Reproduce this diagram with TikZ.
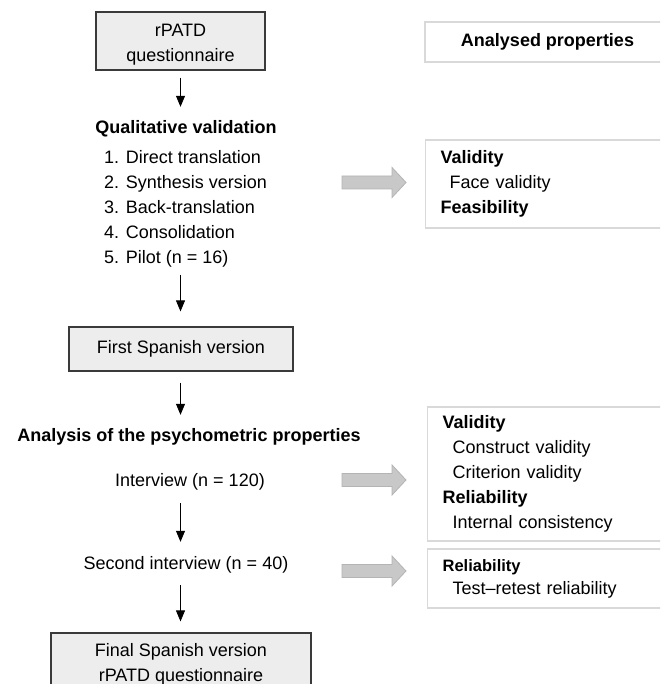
\documentclass[tikz,border=0pt]{standalone}
\usepackage{fontspec}
\setmainfont{Liberation Sans}
\usetikzlibrary{arrows.meta,calc}
\definecolor{boxfill}{HTML}{EDEDED}
\definecolor{boxline}{HTML}{3A3A3A}
\definecolor{propline}{HTML}{D9D9D9}
\definecolor{bafill}{HTML}{C8C8C8}
\definecolor{baline}{HTML}{B4B4B4}
\tikzset{
  mainbox/.style={draw=boxline, fill=boxfill, line width=1.2pt, align=center, inner sep=0pt,
    font=\fontsize{18}{25}\selectfont},
  txt/.style={inner sep=0pt, text height=13pt, text depth=4pt, font=\fontsize{18}{25}\selectfont},
  boldtxt/.style={txt, font=\fontsize{18}{25}\selectfont\bfseries},
  listtxt/.style={inner sep=0pt, align=left, font=\fontsize{18}{25}\selectfont},
  propbox/.style={draw=propline, line width=1.3pt, inner xsep=15pt, inner ysep=0pt,
    text width=215pt, minimum width=245pt, align=left, anchor=west,
    font=\fontsize{18}{25}\selectfont},
  arr/.style={-{Triangle[width=9pt,length=11pt]}, line width=0.8pt, black},
  barrow/.pic={\draw[fill=bafill, draw=baline, line width=0.8pt]
    (0,-6.5) -- (50,-6.5) -- (50,-15) -- (64,0) -- (50,15) -- (50,6.5) -- (0,6.5) -- cycle;}
}
\begin{document}
\begin{tikzpicture}[x=1pt,y=-1pt]
\clip (0,0) rectangle (660,684);
\fill[white] (0,0) rectangle (660,684);
% left column
\node[mainbox, minimum width=169pt, minimum height=58pt] (q) at (180.5,41) {\rule{0pt}{19pt}rPATD\\questionnaire};
\node[boldtxt] (qual) at (186,129) {Qualitative validation};
\node[listtxt, anchor=north west] (list) at (104,150.5)
  {1. Direct translation\\2. Synthesis version\\3. Back-translation\\4. Consolidation\\5. Pilot (n = 16)};
\node[mainbox, minimum width=224pt, minimum height=44pt] (fsv) at (181,349) {First Spanish version};
\node[boldtxt] (anal) at (189,437) {Analysis of the psychometric properties};
\node[txt] (int) at (190,482) {Interview (n = 120)};
\node[txt] (sec) at (186,565) {Second interview (n = 40)};
\node[mainbox, minimum width=260pt, minimum height=57pt] (fin) at (181,661.5) {\rule{0pt}{18pt}Final Spanish version\\rPATD questionnaire};
% vertical arrows
\coordinate (c1) at (180.5,0);
\draw[arr, shorten <=7pt, shorten >=13.5pt] (c1 |- q.south) -- (c1 |- qual.north);
\draw[arr, shorten <=7pt, shorten >=15pt] (c1 |- list.south) -- (c1 |- fsv.north);
\draw[arr, shorten <=11pt, shorten >=13.5pt] (c1 |- fsv.south) -- (c1 |- anal.north);
\draw[arr, shorten <=12.5pt, shorten >=14.5pt] (c1 |- int.south) -- (c1 |- sec.north);
\draw[arr, shorten <=11.5pt, shorten >=11pt] (c1 |- sec.south) -- (c1 |- fin.north);
% right column
\node[draw=propline, line width=1.3pt, minimum width=245pt, minimum height=40pt, inner sep=0pt,
  font=\fontsize{18}{25}\selectfont\bfseries] (ap) at (547.5,42) {Analysed properties};
\node[propbox, minimum height=88pt] (p1) at (425,184)
  {\textbf{Validity}\\\hspace*{9pt}Face validity\\\textbf{Feasibility}};
\node[propbox, minimum height=134pt] (p2) at (427,474)
  {\textbf{Validity}\\\hspace*{10pt}Construct validity\\\hspace*{10pt}Criterion validity\\\textbf{Reliability}\\\hspace*{10pt}Internal consistency};
\node[propbox, minimum height=59pt, font=\fontsize{18}{23}\selectfont] (p3) at (427,578.5)
  {{\fontsize{16.5}{23}\selectfont\bfseries Reliability}\\\hspace*{10pt}Test–retest reliability};
% block arrows
\pic at (342,182.5) {barrow};
\pic at (342,480) {barrow};
\pic at (342,571) {barrow};
\end{tikzpicture}
\end{document}
